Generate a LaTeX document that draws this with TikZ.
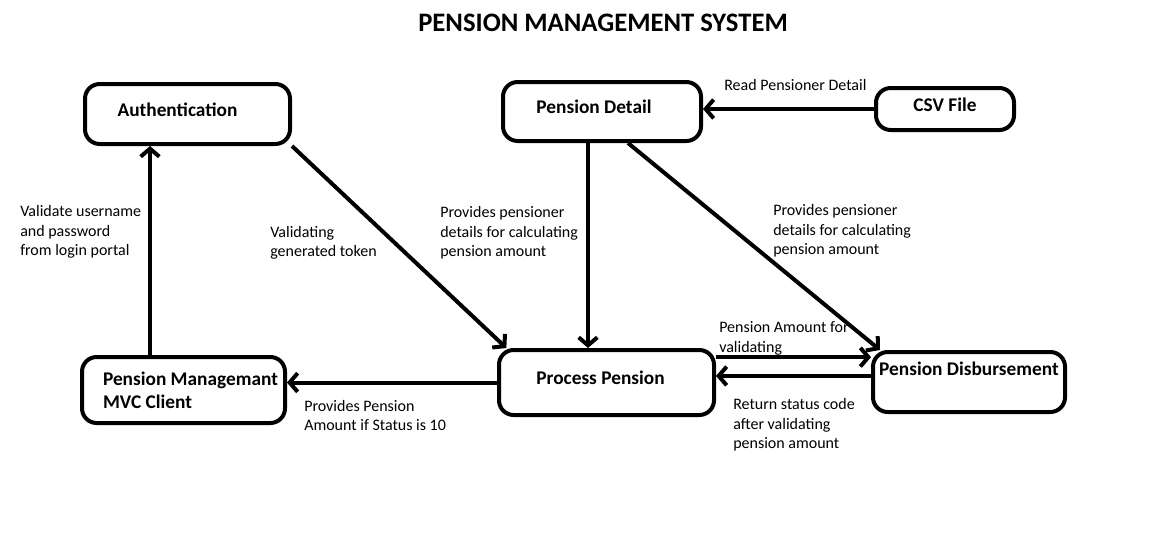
\documentclass[tikz,border=0pt]{standalone}
\usepackage{fontspec}
\setmainfont{Carlito}
\usepackage{tikz}
\usetikzlibrary{arrows.meta, positioning, calc}

\begin{document}
\begin{tikzpicture}[
    x=0.75pt, y=-0.75pt,
    box/.style={draw, rectangle, rounded corners=11pt, line width=3pt, align=center,
        font=\fontsize{14.5}{16.5}\selectfont\bfseries, text depth=7pt, inner sep=0pt},
    note/.style={anchor=west, align=left, inner sep=0pt, font=\fontsize{12}{14.5}\selectfont},
    arrow/.style={-{Straight Barb[length=6pt,width=14pt]}, line width=3pt}
]
    \useasboundingbox (0,0) rectangle (1153,550);

    % Title
    \node[font=\fontsize{20}{24}\selectfont\bfseries] (title) at (603,23) {PENSION MANAGEMENT SYSTEM};

    % Service boxes
    \node[box, minimum width=153.75pt, minimum height=45pt] (auth) at (187.5,114) {\hspace*{-15pt}Authentication};
    \node[box, minimum width=148.5pt, minimum height=44.25pt] (detail) at (602,111.5) {\hspace*{-12pt}Pension Detail};
    \node[box, minimum width=103.5pt, minimum height=31.5pt] (csv) at (945,109) {CSV File};
    \node[box, align=left, text depth=0pt, font=\fontsize{14.5}{17}\selectfont\bfseries, minimum width=152.25pt, minimum height=49.5pt] (client) at (183.5,390) {\hspace*{10.5pt}Pension Managemant\\\hspace*{10.5pt}MVC Client};
    \node[box, minimum width=161.25pt, minimum height=48.75pt] (proc) at (606.5,382.5) {\hspace*{-9pt}Process Pension};
    \node[box, text depth=19.5pt, minimum width=144pt, minimum height=45pt] (disb) at (969,382) {Pension Disbursement};

    % Connector end points
    \coordinate (aIn) at ([xshift=-28.125pt]auth.south);
    \coordinate (dOut) at ([xshift=-10.5pt]detail.south);
    \coordinate (pOut) at ([yshift=19pt]proc.east);
    \coordinate (pIn) at ([yshift=4.9pt]proc.east);

    % Connectors
    \draw[arrow] (client.north -| aIn) -- (aIn);
    \draw[arrow] (auth.south east) -- ([xshift=7pt]proc.north west);
    \draw[arrow] (dOut) -- (dOut |- proc.north);
    \draw[arrow] ([xshift=19.5pt]detail.south) -- ([xshift=6.75pt]disb.north west);
    \draw[arrow] (csv.west) -- (csv.west -| detail.east);
    \draw[arrow] (pOut) -- (pOut -| disb.west);
    \draw[arrow] (pIn -| disb.west) -- (pIn);
    \draw[arrow] (proc.west) -- (proc.west -| client.east);

    % Connector labels
    \node[note] (lblLogin) at (20,232) {Validate username\\and password\\from login portal};
    \node[note] (lblToken) at (270,242.5) {Validating\\generated token};
    \node[note] (lblDetailA) at (440,233) {Provides pensioner\\details for calculating\\pension amount};
    \node[note] (lblDetailB) at (773,231) {Provides pensioner\\details for calculating\\pension amount};
    \node[note] (lblRead) at (724,85) {Read Pensioner Detail};
    \node[note] (lblAmount) at (719,338.5) {Pension Amount for\\validating};
    \node[note] (lblStatus) at (733,425) {Return status code\\after validating\\pension amount};
    \node[note] (lblPay) at (304,415.5) {Provides Pension\\Amount if Status is 10};

\end{tikzpicture}
\end{document}
